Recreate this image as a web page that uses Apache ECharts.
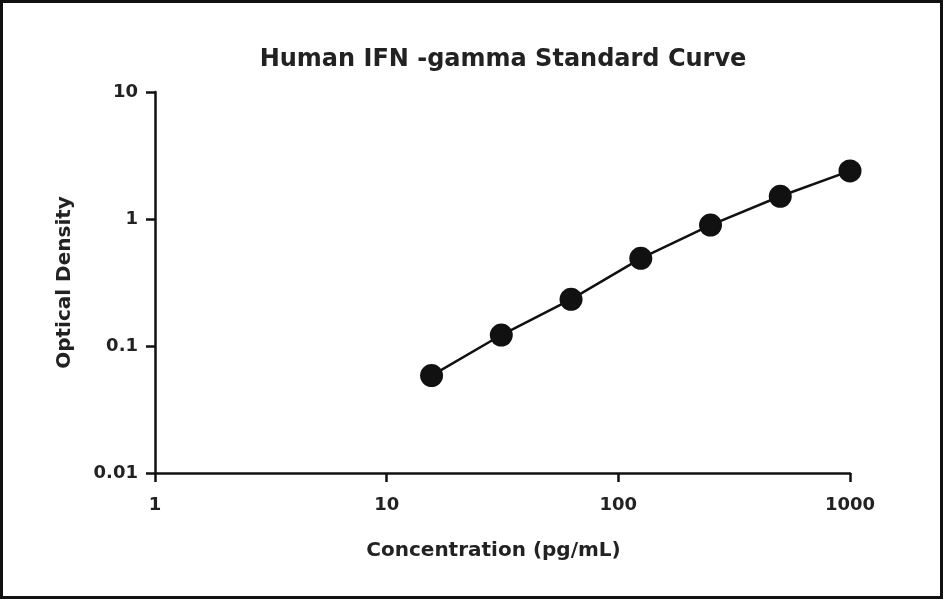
<!DOCTYPE html>
<html>
<head>
<meta charset="utf-8">
<script src="https://cdn.jsdelivr.net/npm/echarts@6/dist/echarts.min.js"></script>
<style>
  html, body { margin: 0; padding: 0; background: #fff; }
  #chart { width: 944px; height: 600px; }
</style>
</head>
<body>
<div id="chart"></div>
<script>
// standard curve points (concentration in pg/mL, optical density)
const concentration = [15.625, 31.25, 62.5, 125, 250, 500, 1000]
const density = [0.0585, 0.122, 0.233, 0.49, 0.895, 1.51, 2.39]

const textColor = '#222222'
const fontFamily = 'DejaVu Sans'

const chart = echarts.init(document.getElementById('chart'))

const option = {
  backgroundColor: '#ffffff',
  animation: false,
  title: {
    text: 'Human IFN -gamma Standard Curve',
    left: 498,
    top: 43,
    textAlign: 'center',
    textStyle: {
      fontFamily: fontFamily,
      fontSize: 24,
      fontWeight: 'bold',
      color: textColor
    }
  },
  grid: {
    left: 155,
    right: 94,
    top: 92,
    bottom: 127
  },
  xAxis: {
    type: 'log',
    logBase: 10,
    min: 1,
    max: 1000,
    name: 'Concentration (pg/mL)',
    nameLocation: 'middle',
    nameGap: 68,
    nameTextStyle: {
      fontFamily: fontFamily,
      fontSize: 20,
      fontWeight: 'bold',
      color: textColor,
      padding: [0, 18, 0, 0]
    },
    axisLine: { lineStyle: { color: '#111', width: 2.5 } },
    axisTick: { show: true, inside: false, length: 9, lineStyle: { color: '#111', width: 2.5 } },
    minorTick: { show: false },
    splitLine: { show: false },
    axisLabel: {
      margin: 23,
      fontFamily: fontFamily,
      fontSize: 18,
      fontWeight: 'bold',
      color: textColor,
      formatter: function (v) {
        return String(Math.round(v))
      }
    }
  },
  yAxis: {
    type: 'log',
    logBase: 10,
    min: 0.01,
    max: 10,
    name: 'Optical Density',
    nameLocation: 'middle',
    nameGap: 80,
    nameRotate: 90,
    nameTextStyle: {
      fontFamily: fontFamily,
      fontSize: 20,
      fontWeight: 'bold',
      color: textColor
    },
    axisLine: { show: true, lineStyle: { color: '#111', width: 2.5 } },
    axisTick: { show: true, inside: false, length: 9, lineStyle: { color: '#111', width: 2.5 } },
    splitLine: { show: false },
    axisLabel: {
      margin: 17,
      fontFamily: fontFamily,
      fontSize: 18,
      fontWeight: 'bold',
      color: textColor,
      formatter: function (v) {
        return String(+v.toPrecision(3))
      }
    }
  },
  graphic: [{
    type: 'rect',
    shape: { x: 1.5, y: 1.5, width: 940, height: 596 },
    style: { fill: 'none', stroke: '#111', lineWidth: 3 },
    silent: true
  }],
  series: [{
    type: 'line',
    data: concentration.map((c, i) => [c, density[i]]),
    symbol: 'circle',
    symbolSize: 23,
    showAllSymbol: true,
    itemStyle: { color: '#111' },
    lineStyle: { color: '#111', width: 2.5 }
  }]
}

chart.setOption(option)
window.addEventListener('resize', () => {
  chart.resize()
})
</script>
</body>
</html>
